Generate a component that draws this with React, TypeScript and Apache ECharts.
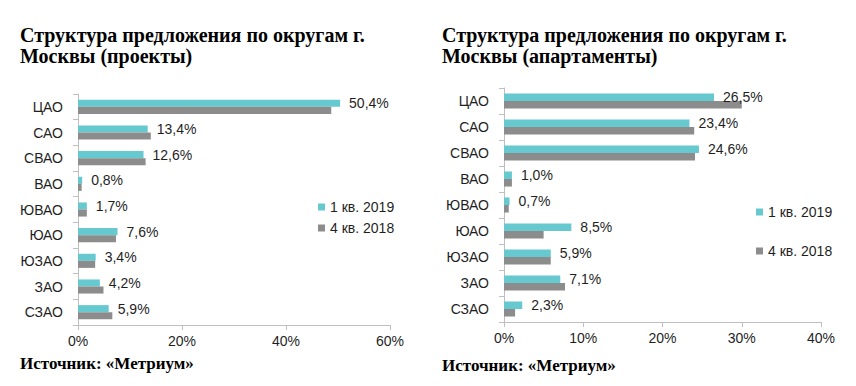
import React, { useEffect, useRef } from "react";
import * as echarts from "echarts";

const categories = ["ЦАО", "САО", "СВАО", "ВАО", "ЮВАО", "ЮАО", "ЮЗАО", "ЗАО", "СЗАО"];
const seriesNames = ["1 кв. 2019", "4 кв. 2018"];

const projectsQ1_2019 = [50.4, 13.4, 12.6, 0.8, 1.7, 7.6, 3.4, 4.2, 5.9];
const projectsQ4_2018 = [48.7, 14.0, 13.0, 0.7, 1.7, 7.3, 3.3, 4.9, 6.6];

const apartQ1_2019 = [26.5, 23.4, 24.6, 1.0, 0.7, 8.5, 5.9, 7.1, 2.3];
const apartQ4_2018 = [30.0, 24.0, 24.1, 1.0, 0.6, 5.0, 5.9, 7.7, 1.4];

const leftTitle = "Структура предложения по округам г.\nМосквы (проекты)";
const rightTitle = "Структура предложения по округам г.\nМосквы (апартаменты)";
const sourceText = "Источник: «Метриум»";

const CYAN = "#66C9D0";
const GRAY = "#8C8C8C";
const TEXT = "#1F1F1F";
const AXIS = "#BFBFBF";

const fmt = (v: number) => v.toFixed(1).replace(".", ",") + "%";

export default function App() {
  const ref = useRef<HTMLDivElement>(null);
  useEffect(() => {
    if (!ref.current) return;
    const chart = echarts.init(ref.current, undefined, { renderer: "svg" });
    const font = "Liberation Sans, Arial, sans-serif";
    const serif = "Liberation Serif, Times New Roman, serif";
    const xAxisBase = (gi: number, max: number, interval: number) => ({
      type: "value" as const,
      gridIndex: gi,
      min: 0,
      max,
      interval,
      splitLine: { show: false },
      axisLine: { show: true, lineStyle: { color: AXIS, width: 1 } },
      axisTick: { show: true, length: 5, lineStyle: { color: AXIS } },
      axisLabel: { formatter: "{value}%", color: TEXT, fontSize: 14, fontFamily: font, margin: 9 },
    });
    const yAxisBase = (gi: number) => ({
      type: "category" as const,
      gridIndex: gi,
      data: categories,
      inverse: true,
      axisLine: { show: true, lineStyle: { color: AXIS, width: 1 } },
      axisTick: { show: true, length: 5, lineStyle: { color: AXIS } },
      axisLabel: { color: TEXT, fontSize: 14, fontFamily: font, margin: 15 },
    });
    const barSeries = (name: string, data: number[], gi: number, color: string, label: boolean, gap: string) => ({
      type: "bar" as const,
      name,
      data,
      xAxisIndex: gi,
      yAxisIndex: gi,
      itemStyle: { color },
      barGap: "0%",
      barCategoryGap: gap,
      label: label
        ? {
            show: true,
            position: "right" as const,
            distance: 9,
            color: TEXT,
            fontSize: 14,
            fontFamily: font,
            formatter: (p: any) => fmt(p.value),
          }
        : { show: false },
    });
    const legendBase = (left: number, top: number, gap: number) => ({
      orient: "vertical" as const,
      left,
      top,
      itemWidth: 7,
      itemHeight: 7,
      itemGap: gap,
      itemTextGap: 6,
      icon: "rect",
      data: seriesNames,
      textStyle: { color: TEXT, fontSize: 14, fontFamily: font },
    });
    chart.setOption({
      animation: false,
      backgroundColor: "#ffffff",
      grid: [
        { left: 78, top: 94, width: 312, height: 231 },
        { left: 504, top: 88, width: 317, height: 234 },
      ],
      xAxis: [xAxisBase(0, 60, 20), xAxisBase(1, 40, 10)],
      yAxis: [yAxisBase(0), yAxisBase(1)],
      legend: [legendBase(313, 195, 7), legendBase(751, 200, 25)],
      series: [
        barSeries(seriesNames[0], projectsQ1_2019, 0, CYAN, true, "45%"),
        barSeries(seriesNames[1], projectsQ4_2018, 0, GRAY, false, "45%"),
        barSeries(seriesNames[0], apartQ1_2019, 1, CYAN, true, "42%"),
        barSeries(seriesNames[1], apartQ4_2018, 1, GRAY, false, "42%"),
      ],
      graphic: [
        {
          type: "text",
          left: 20,
          top: 24,
          style: { text: leftTitle, fill: "#000", font: `bold 20px ${serif}`, lineHeight: 21 },
        },
        {
          type: "text",
          left: 442,
          top: 24,
          style: { text: rightTitle, fill: "#000", font: `bold 20px ${serif}`, lineHeight: 21 },
        },
        {
          type: "text",
          left: 20,
          top: 355,
          style: { text: sourceText, fill: "#000", font: `bold 17px ${serif}` },
        },
        {
          type: "text",
          left: 442,
          top: 357,
          style: { text: sourceText, fill: "#000", font: `bold 17px ${serif}` },
        },
      ],
    });
    return () => chart.dispose();
  }, []);
  return (
    <div
      ref={ref}
      style={{ position: "fixed", left: 0, top: 0, width: 856, height: 386, background: "#fff" }}
    />
  );
}
